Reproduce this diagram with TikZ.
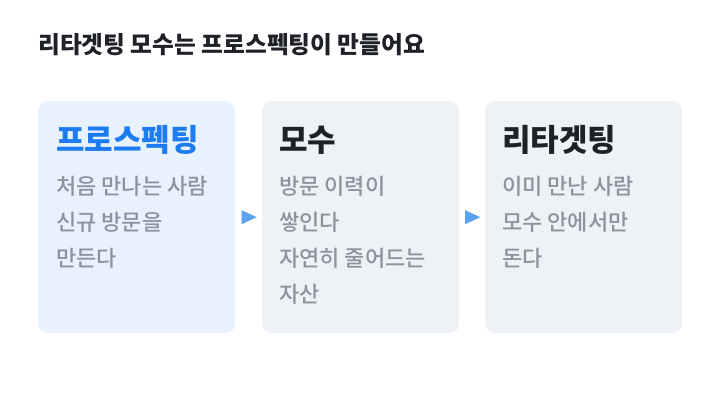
\documentclass[tikz,border=0pt]{standalone}
\usepackage{fontspec}
\setmainfont{Noto Sans CJK KR}
\newfontface\headfont{Noto Sans CJK KR Black}
\newfontface\bodyfont{Noto Sans CJK KR Medium}
\usetikzlibrary{calc}
\definecolor{titleink}{HTML}{1E2128}
\definecolor{bodyink}{HTML}{8C939D}
\definecolor{blueink}{HTML}{1D7CF2}
\definecolor{arrowink}{HTML}{5AA2F2}
\definecolor{bluecard}{HTML}{E8F1FE}
\definecolor{graycard}{HTML}{EEF1F5}
\tikzset{
    card/.style={rounded corners=10pt, minimum width=197pt, minimum height=232pt, anchor=north west, inner sep=0pt},
    headtext/.style={anchor=west, inner sep=0pt, font=\fontsize{31}{31}\headfont},
    bodytext/.style={anchor=west, inner sep=0pt, text=bodyink, font=\fontsize{22}{22}\bodyfont},
}
\begin{document}
\begin{tikzpicture}[x=1pt,y=-1pt]
    \fill[white] (0,0) rectangle (720,405);
    \node[anchor=west, inner sep=0pt, text=titleink, font=\fontsize{23.7}{24}\headfont] (title) at (38,45) {리타겟팅 모수는 프로스펙팅이 만들어요};

    % cards
    \node[card, fill=bluecard] (prosp) at (38,101) {};
    \node[card, fill=graycard] (mosu) at (262,101) {};
    \node[card, fill=graycard] (retarget) at (485,101) {};

    \node[headtext, text=blueink] (prosphead) at (56,140) {프로스펙팅};
    \node[headtext, text=titleink] (mosuhead) at (279,140) {모수};
    \node[headtext, text=titleink] (retargethead) at (502,140) {리타겟팅};

    \foreach \t [count=\i] in {처음 만나는 사람, 신규 방문을, 만든다}
        \node[bodytext] (prosp\i) at (56,150+36*\i) {\t};
    \foreach \t [count=\i] in {방문 이력이, 쌓인다, 자연히 줄어드는, 자산}
        \node[bodytext] (mosu\i) at (279,150+36*\i) {\t};
    \foreach \t [count=\i] in {이미 만난 사람, 모수 안에서만, 돈다}
        \node[bodytext] (retarget\i) at (502,150+36*\i) {\t};

    % arrows between cards
    \coordinate (a1) at ($(prosp.east)!0.5!(mosu.west)$);
    \coordinate (a2) at ($(mosu.east)!0.5!(retarget.west)$);
    \foreach \a in {a1,a2}
        \fill[arrowink] (\a) ++(-7,-7) -- ++(15,7) -- ++(-15,7) -- cycle;
\end{tikzpicture}
\end{document}
